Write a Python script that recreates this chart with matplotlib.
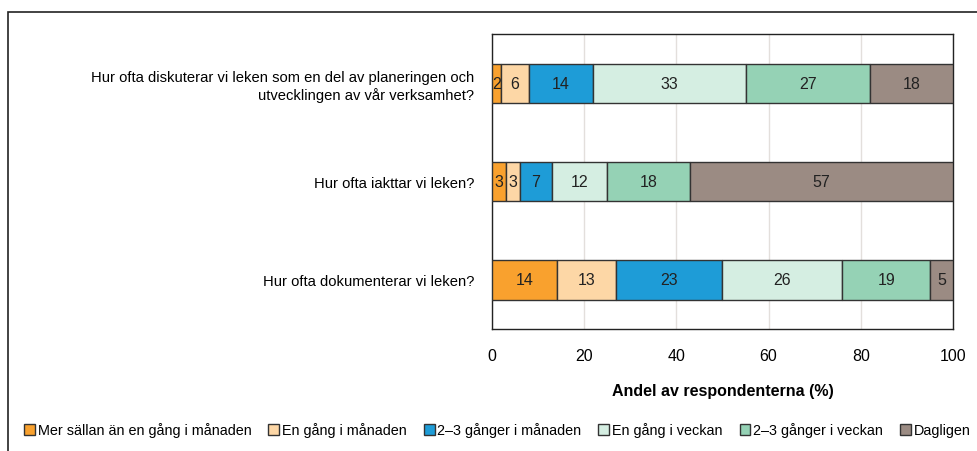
import matplotlib
matplotlib.use("Agg")
import matplotlib.pyplot as plt
from matplotlib.patches import Rectangle
from matplotlib import font_manager

names = {f.name for f in font_manager.fontManager.ttflist}
fam = ['Liberation Sans Narrow'] if 'Liberation Sans Narrow' in names else ['Liberation Sans']
plt.rcParams['font.family'] = fam + ['DejaVu Sans']

questions = [
    "Hur ofta diskuterar vi leken som en del av planeringen och\nutvecklingen av vår verksamhet?",
    "Hur ofta iakttar vi leken?",
    "Hur ofta dokumenterar vi leken?",
]
series = ["Mer sällan än en gång i månaden", "En gång i månaden", "2–3 gånger i månaden",
          "En gång i veckan", "2–3 gånger i veckan", "Dagligen"]
values = [
    [2, 3, 14],
    [6, 3, 13],
    [14, 7, 23],
    [33, 12, 26],
    [27, 18, 19],
    [18, 57, 5],
]
colors = ["#F9A12E", "#FDD7A6", "#1E9CD7", "#D5EEE2", "#95D2B5", "#9B8B83"]
xticks = [0, 20, 40, 60, 80, 100]

W, H = 977, 452
fig = plt.figure(figsize=(W / 100, H / 100), dpi=100)
ax = fig.add_axes([492 / W, 1 - 330 / H, (953 - 492) / W, (330 - 35) / H])

ypos = list(range(len(questions)))
left = [0] * len(questions)
for s, vals, c in zip(series, values, colors):
    ax.barh(ypos, vals, left=left, height=0.4, color=c, edgecolor="#333333",
            linewidth=1.0, label=s, zorder=3)
    for y, v, l in zip(ypos, vals, left):
        ax.text(l + v / 2, y, str(v), ha="center", va="center", fontsize=11.5,
                color="#222222", zorder=4)
    left = [a + b for a, b in zip(left, vals)]

ax.set_ylim(2.5, -0.5)
ax.set_xlim(0, 100)
ax.set_yticks(ypos)
ax.set_yticklabels(questions, fontsize=10.6, ha="right", linespacing=1.25)
ax.set_xticks(xticks)
ax.set_xticklabels([str(t) for t in xticks], fontsize=11.5)
ax.tick_params(axis="both", length=0, pad=14)
ax.tick_params(axis="y", pad=13)
ax.xaxis.grid(True, color="#e3dfdc", linewidth=1.0, zorder=0)
for sp in ax.spines.values():
    sp.set_color("#222222")
    sp.set_linewidth(1.0)
ax.set_xlabel("Andel av respondenterna (%)", fontsize=11.5, fontweight="bold", labelpad=14)

fig.add_artist(Rectangle((8 / W, -0.1), 1.2, 1 - 13 / H + 0.1, transform=fig.transFigure,
                         fill=False, edgecolor="#222222", linewidth=1.2))

leg = fig.legend(loc="center left", bbox_to_anchor=(24 / W, 1 - 431 / H), ncol=6,
                 frameon=False, fontsize=10.4, handlelength=0.75, handleheight=0.75,
                 handletextpad=0.2, columnspacing=1.17, borderaxespad=0, borderpad=0)

fig.savefig("out.png", dpi=100)
